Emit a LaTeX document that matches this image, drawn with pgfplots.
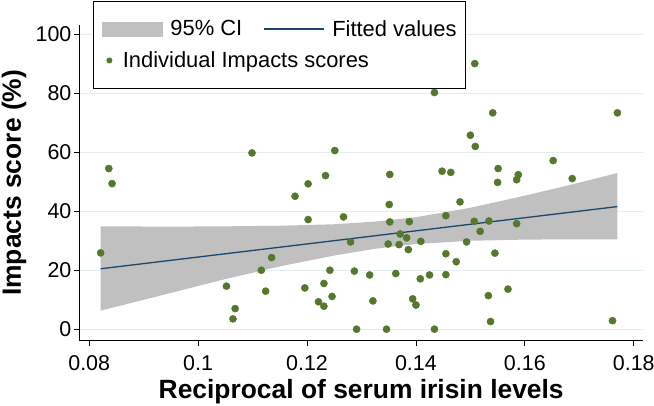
\documentclass[border=0pt]{standalone}
\usepackage{pgfplots}
\pgfplotsset{compat=1.18}
\usepackage{fontspec}
\setmainfont{Liberation Sans}
\definecolor{ptgreen}{RGB}{84,121,45}
\definecolor{fitblue}{RGB}{26,71,111}
\definecolor{cigray}{RGB}{192,192,192}
\definecolor{gridc}{RGB}{228,237,241}
\pgfplotstableread{
x y
0.0821 25.9
0.0836 54.5
0.0842 49.4
0.1099 59.8
0.1052 14.6
0.1064 3.5
0.1068 7.0
0.1116 20.0
0.1124 12.9
0.1135 24.3
0.1178 45.1
0.1196 14.0
0.1202 49.3
0.1202 37.2
0.1221 9.3
0.1231 7.8
0.1231 15.5
0.1234 52.1
0.1242 20.0
0.1246 11.1
0.1251 60.6
0.1267 38.1
0.1280 29.6
0.1287 19.7
0.1291 0.0
0.1315 18.4
0.1321 9.6
0.1346 0.0
0.1349 28.9
0.1351 42.3
0.1352 52.5
0.1352 36.4
0.1363 18.9
0.1369 28.7
0.1371 32.3
0.1383 31.0
0.1386 27.0
0.1388 36.5
0.1394 10.3
0.1400 8.2
0.1408 17.1
0.1409 29.8
0.1425 18.4
0.1434 80.3
0.1434 0.0
0.1448 53.6
0.1455 38.5
0.1455 25.6
0.1455 18.5
0.1464 53.2
0.1474 22.9
0.1481 43.2
0.1493 29.6
0.1500 65.8
0.1507 36.6
0.1508 90.1
0.1509 62.0
0.1518 33.2
0.1533 11.4
0.1534 36.7
0.1537 2.6
0.1541 73.4
0.1545 25.8
0.1550 49.8
0.1551 54.5
0.1569 13.6
0.1585 35.8
0.1585 50.7
0.1588 52.4
0.1652 57.2
0.1687 51.1
0.1761 2.9
0.1770 73.4
}\scores
\begin{document}
\begin{tikzpicture}
\useasboundingbox (0,0) rectangle (654bp,406bp);
\begin{axis}[
  at={(79.4bp,65.3bp)}, anchor=south west,
  scale only axis, width=563.6bp, height=315.7bp,
  xmin=0.0782, xmax=0.1817, ymin=-3.9, ymax=103.2,
  axis x line=bottom, axis y line=left,
  axis line style={-, black, line width=0.8bp},
  xtick={0.08,0.1,0.12,0.14,0.16,0.18},
  xticklabels={0.08,0.1,0.12,0.14,0.16,0.18},
  ytick={0,20,40,60,80,100},
  yticklabels={0,20,40,60,80,100},
  tick align=outside, major tick length=5.5bp,
  tick style={black, line width=0.8bp},
  ymajorgrids, grid style={gridc, line width=0.8bp},
  tick label style={font=\fontsize{21.5}{23}\selectfont},
  xticklabel style={yshift=-6bp},
  yticklabel style={xshift=1bp},
  /pgf/number format/assume math mode=true,
  xlabel={Reciprocal of serum irisin levels},
  ylabel={Impacts score (\%)},
  label style={font=\fontsize{26.5}{30}\selectfont\bfseries},
  xlabel style={at={(axis description cs:0.5,-0.1625)}, anchor=center},
  ylabel style={at={(axis description cs:-0.1161,0.5)}, anchor=center, rotate=0},
  legend columns=2,
  legend cell align=left,
  legend style={at={(axis description cs:0.02413,1.076)}, anchor=north west,
    draw=black, line width=0.8bp, fill=white,
    inner xsep=9bp, inner ysep=19bp,
    font=\fontsize{22}{24}\selectfont,
    nodes={inner sep=0pt},
    /tikz/column sep=7bp,
    /tikz/every even column/.append style={column sep=21bp},
    /tikz/row sep=14bp},
]
\addplot[fill=cigray, draw=none,
  legend image code/.code={\fill[cigray, draw=none] (0bp,-7.5bp) rectangle (61bp,7.5bp);}]
  coordinates {
  (0.0821,6.3) (0.095,12.3) (0.105,17.0) (0.115,21.3) (0.125,25.0)
  (0.1325,27.3) (0.14,28.9) (0.15,30.0) (0.16,30.4) (0.17,30.5) (0.177,30.5)
  (0.177,53.0) (0.17,49.7) (0.16,45.3) (0.15,41.2) (0.14,38.0) (0.1325,36.5)
  (0.125,35.6) (0.115,35.1) (0.105,34.9) (0.095,34.8) (0.0821,34.9)
  } -- cycle;
\addlegendentry{95\% CI}
\addplot[fitblue, line width=1.3bp,
  legend image code/.code={\draw[fitblue, line width=2bp] (0bp,0bp) -- (60bp,0bp);}]
  coordinates {(0.0821,20.5) (0.1770,41.6)};
\addlegendentry{Fitted values}
\addplot[only marks, mark=*, mark size=3.6bp, ptgreen, mark options={draw=ptgreen, fill=ptgreen},
  legend image code/.code={\path[draw=none, fill=none] (0bp,0bp) rectangle (61bp,0.1bp); \fill[ptgreen, draw=none] (7bp,0bp) circle (3bp);}]
  table[x=x, y=y] {\scores};
\addlegendentry{\makebox[0pt][l]{\hspace*{-48bp}Individual Impacts scores}}
\end{axis}
\end{tikzpicture}
\end{document}
